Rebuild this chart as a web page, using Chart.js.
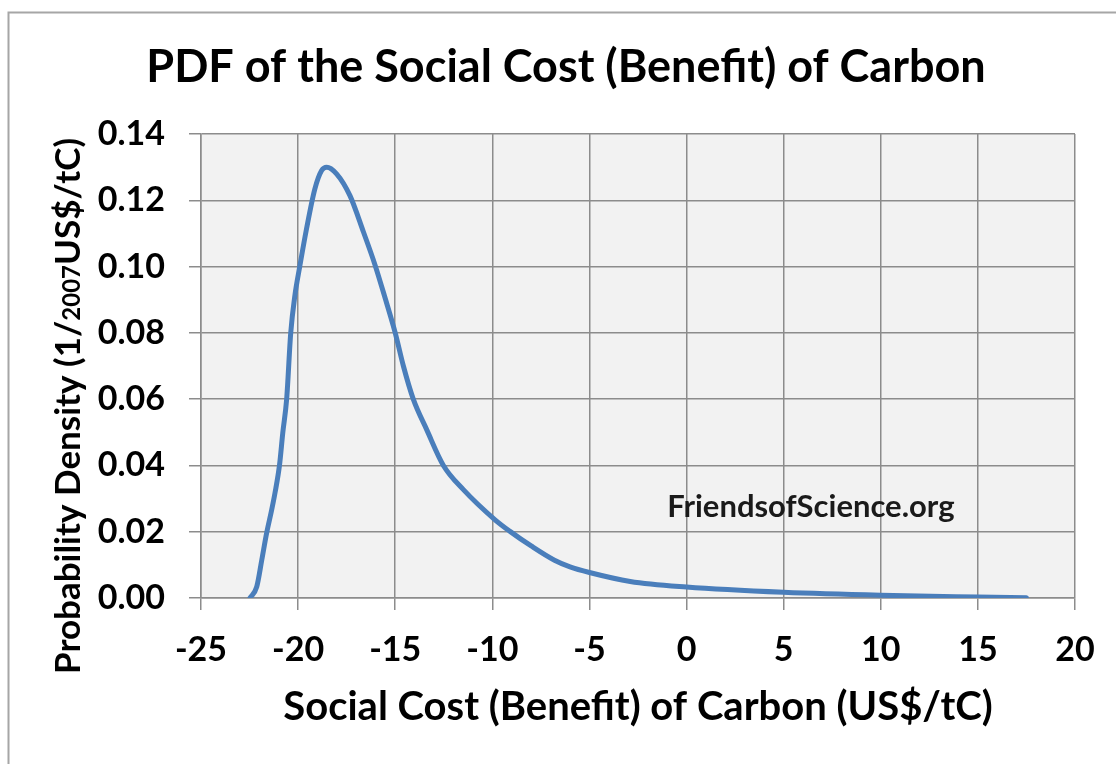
<!DOCTYPE html>
<html>
<head>
<meta charset="utf-8">
<script src="https://cdn.jsdelivr.net/npm/chart.js@4.4.1/dist/chart.umd.min.js"></script>
<style>
  html, body { margin: 0; padding: 0; background: #ffffff; }
  #wrap { width: 1116px; height: 764px; position: relative; }
</style>
</head>
<body>
<div id="wrap"><canvas id="c" width="1116" height="764"></canvas></div>
<script>
// ---- Data ----
const chartTitle = "PDF of the Social Cost (Benefit) of Carbon";
const xAxisTitle = "Social Cost (Benefit) of Carbon (US$/tC)";
const yAxisTitleParts = ["Probability Density (1/", "2007", "US$/tC)"];
const watermarkText = "FriendsofScience.org";

const costValues = [-22.48, -22.13, -21.87, -21.62, -21.36, -21.19, -20.96, -20.79, -20.59, -20.38,
  -20.17, -19.91, -19.57, -19.14, -18.79, -18.53, -18.02, -17.33, -16.64, -16.04,
  -15.52, -15.0, -14.58, -14.07, -13.38, -12.52, -11.49, -9.86, -9.09, -8.0,
  -6.8, -6.0, -5, -2.9, 0, 5, 10, 15, 17.5];
const densityValues = [0, 0.0034, 0.0115, 0.0196, 0.0266, 0.0317, 0.040, 0.0498, 0.060, 0.080,
  0.0911, 0.1002, 0.1113, 0.1234, 0.129, 0.130, 0.128, 0.1214, 0.1105, 0.1005,
  0.0905, 0.080, 0.070, 0.060, 0.0508, 0.040, 0.0327, 0.0236, 0.0201, 0.0157,
  0.0114, 0.0094, 0.0077, 0.005, 0.0033, 0.0017, 0.0008, 0.0003, 0.0001];

const xTickMin = -25, xTickMax = 20, xTickStep = 5;
const yTickMin = 0, yTickMax = 0.14, yTickStep = 0.02;
const watermarkAt = { x: 6.4, y: 0.0275 };

// ---- Styles ----
const FONT = "Lato, 'Open Sans', 'DejaVu Sans', sans-serif";
const gridColor = "#8c8c8c";
const lineColor = "#4a7ebb";

const points = costValues.map((v, i) => ({ x: v, y: densityValues[i] }));

const framePlugin = {
  id: 'frame',
  beforeDraw(chart) {
    const ctx = chart.ctx;
    const a = chart.chartArea;
    ctx.save();
    ctx.fillStyle = '#ffffff';
    ctx.fillRect(0, 0, chart.width, chart.height);
    ctx.strokeStyle = '#a6a6a6';
    ctx.lineWidth = 2;
    ctx.beginPath();
    ctx.moveTo(8.5, chart.height);
    ctx.lineTo(8.5, 12.5);
    ctx.lineTo(chart.width, 12.5);
    ctx.stroke();
    ctx.fillStyle = '#f2f2f2';
    ctx.fillRect(a.left, a.top, a.right - a.left, a.bottom - a.top);
    ctx.restore();
  },
  afterDraw(chart) {
    const ctx = chart.ctx;
    ctx.save();
    const big = "bold 35px " + FONT;
    const small = "bold 24px " + FONT;
    ctx.font = big;
    const w0 = ctx.measureText(yAxisTitleParts[0]).width;
    const w2 = ctx.measureText(yAxisTitleParts[2]).width;
    ctx.font = small;
    const w1 = ctx.measureText(yAxisTitleParts[1]).width;
    const total = w0 + w1 + w2;
    const cx = 68, cy = 406;
    ctx.translate(cx, cy);
    ctx.rotate(-Math.PI / 2);
    ctx.fillStyle = '#000000';
    ctx.textBaseline = 'alphabetic';
    ctx.textAlign = 'left';
    let x = -total / 2;
    const base = 12;
    ctx.font = big; ctx.fillText(yAxisTitleParts[0], x, base); x += w0;
    ctx.font = small; ctx.fillText(yAxisTitleParts[1], x, base); x += w1;
    ctx.font = big; ctx.fillText(yAxisTitleParts[2], x, base);
    ctx.restore();

    ctx.save();
    ctx.font = "bold 31px " + FONT;
    ctx.fillStyle = '#1a1a1a';
    ctx.textAlign = 'center';
    ctx.textBaseline = 'middle';
    ctx.fillText(watermarkText,
      chart.scales.x.getPixelForValue(watermarkAt.x),
      chart.scales.y.getPixelForValue(watermarkAt.y));
    ctx.restore();
  }
};

new Chart(document.getElementById('c'), {
  type: 'line',
  data: {
    datasets: [{
      data: points,
      borderColor: lineColor,
      borderWidth: 5,
      pointRadius: 0,
      fill: false,
      cubicInterpolationMode: 'monotone',
      borderCapStyle: 'round',
      borderJoinStyle: 'round'
    }]
  },
  options: {
    responsive: false,
    animation: false,
    devicePixelRatio: 1,
    layout: { padding: { left: 57, right: 41, top: 0, bottom: 0 } },
    plugins: {
      legend: { display: false },
      tooltip: { enabled: false },
      title: {
        display: true,
        text: chartTitle,
        color: '#000000',
        font: { family: FONT, size: 45, weight: 'bold', lineHeight: 1.2 },
        padding: { top: 40, bottom: 40 }
      }
    },
    scales: {
      x: {
        type: 'linear',
        min: xTickMin, max: xTickMax,
        ticks: {
          stepSize: xTickStep,
          color: '#000000',
          padding: 20,
          font: { family: FONT, size: 34, weight: 'bold' },
          callback: v => String(v)
        },
        grid: { color: gridColor, lineWidth: 1.5, tickLength: 12, tickColor: gridColor },
        border: { color: gridColor, width: 1.5 },
        title: {
          display: true,
          text: xAxisTitle,
          color: '#000000',
          font: { family: FONT, size: 40, weight: 'bold', lineHeight: 1.2 },
          padding: { top: 0, bottom: 33 }
        },
        afterFit(scale) { scale.height = 166; }
      },
      y: {
        type: 'linear',
        min: yTickMin, max: yTickMax,
        ticks: {
          stepSize: yTickStep,
          color: '#000000',
          padding: 24,
          font: { family: FONT, size: 34, weight: 'bold' },
          callback: v => Number(v).toFixed(2)
        },
        grid: { color: gridColor, lineWidth: 1.5, tickLength: 12, tickColor: gridColor },
        border: { color: gridColor, width: 1.5 },
        afterFit(scale) { scale.width = 144; }
      }
    }
  },
  plugins: [framePlugin]
});
</script>
</body>
</html>
